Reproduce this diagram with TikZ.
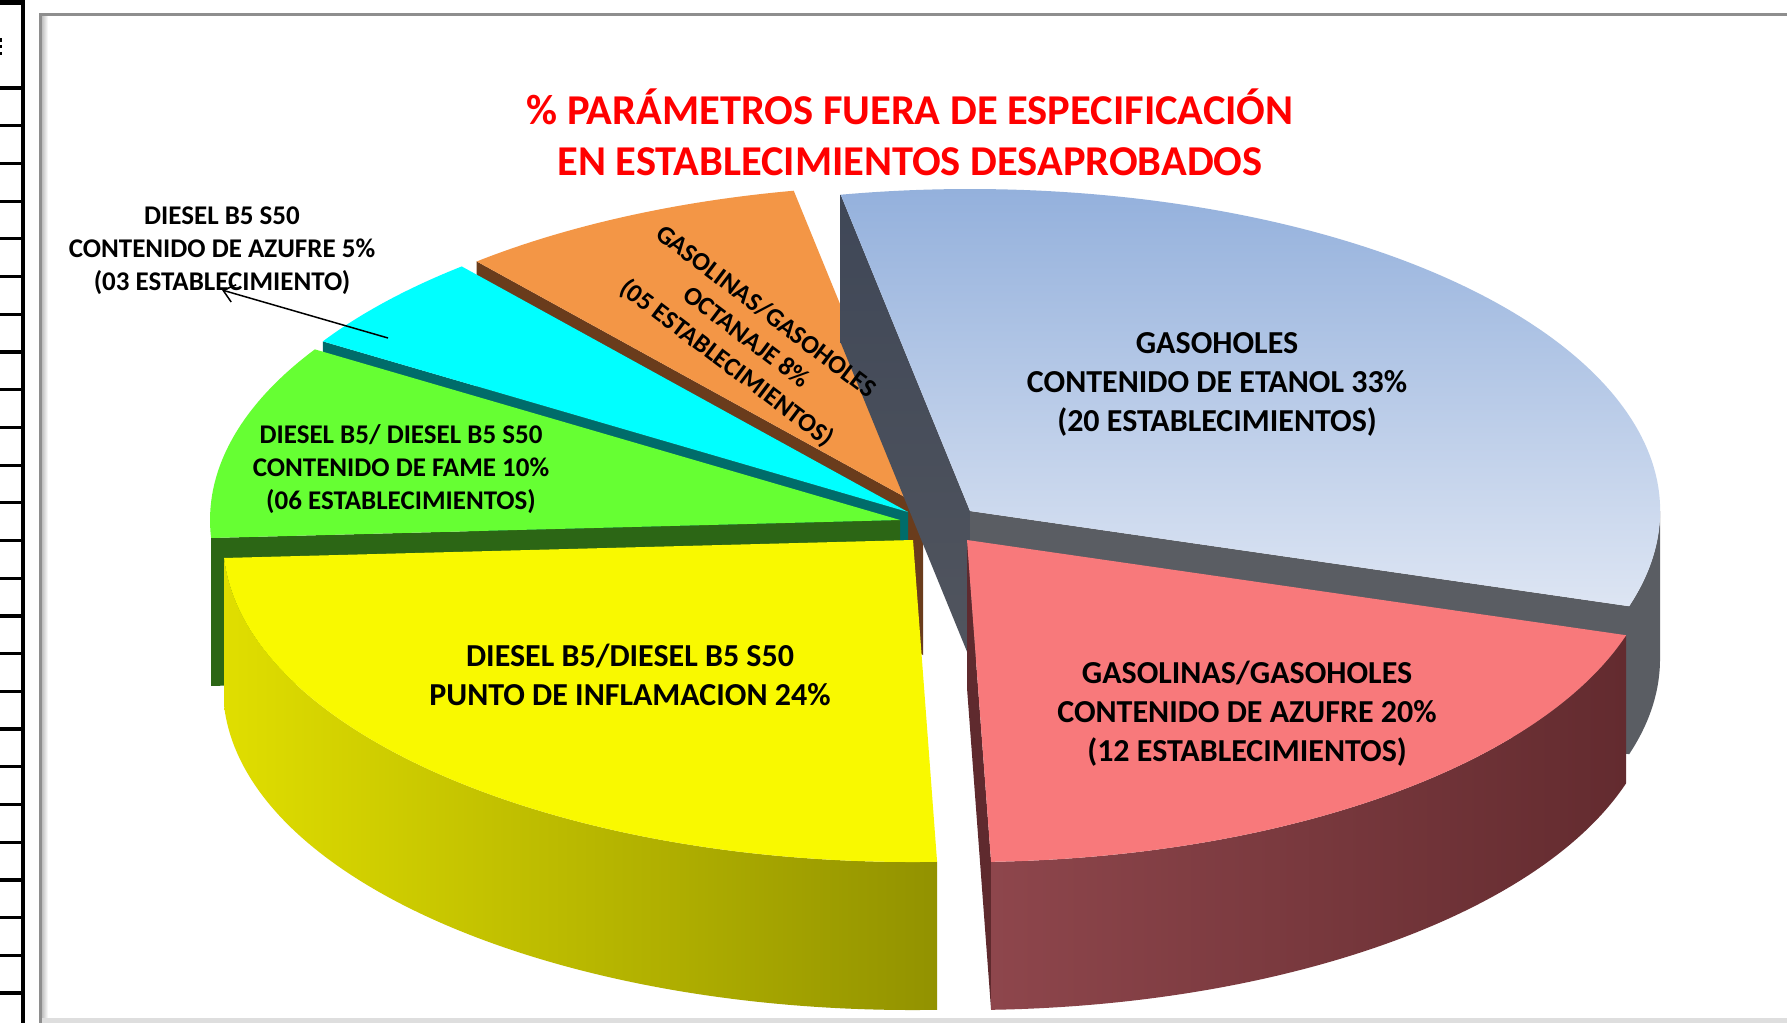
\documentclass[tikz,border=0pt]{standalone}
\usepackage{fontspec}
\setmainfont{Carlito}
\usetikzlibrary{calc,arrows.meta}
\definecolor{orangetop}{HTML}{F39646}
\definecolor{orangeside}{HTML}{6A3C1C}
\definecolor{bluetopA}{HTML}{93B0DC}
\definecolor{bluetopB}{HTML}{DDE5F3}
\definecolor{bluesideA}{HTML}{3F4757}
\definecolor{bluesideB}{HTML}{51555E}
\definecolor{bluefront}{HTML}{5A5D63}
\definecolor{cyantop}{HTML}{00FFFF}
\definecolor{cyanside}{HTML}{006C6A}
\definecolor{greentop}{HTML}{66FF33}
\definecolor{greenside}{HTML}{2C6615}
\definecolor{yellowtop}{HTML}{F9F900}
\definecolor{yellowA}{HTML}{E0DE00}
\definecolor{yellowB}{HTML}{CCCA00}
\definecolor{yellowC}{HTML}{929200}
\definecolor{pinktop}{HTML}{F8797B}
\definecolor{pinkA}{HTML}{8E464C}
\definecolor{pinkB}{HTML}{6E3136}
\definecolor{pinkC}{HTML}{632B2F}
\definecolor{pinkedge}{HTML}{5F2A2E}
\definecolor{framegray}{HTML}{8E8E8E}
\definecolor{titlered}{HTML}{FF0000}

\newcommand\pieface[3]{\path[#3] (#1) -- ($(#1)+(#2:690pt and 322pt)$) -- ++(0,-148) -- ($(#1)+(0,-148)$) -- cycle;}
\newcommand\pierim[4]{\path[#4] ($(#1)+(#2:690pt and 322pt)$) arc[start angle=#2,end angle=#3,x radius=690pt,y radius=322pt] -- ++(0,-148) arc[start angle=#3,end angle=#2,x radius=690pt,y radius=322pt] -- cycle;}
\newcommand\pietop[4]{\path[#4] (#1) -- ($(#1)+(#2:690pt and 322pt)$) arc[start angle=#2,end angle=#3,x radius=690pt,y radius=322pt] -- cycle;}

\tikzset{
  lblbig/.style={font=\bfseries\fontsize{32}{39}\selectfont, align=center, inner sep=0pt},
  lblsmall/.style={font=\bfseries\fontsize{27}{33}\selectfont, align=center, inner sep=0pt},
  ttl/.style={font=\bfseries\fontsize{42.5}{51}\selectfont, align=center, inner sep=0pt, text=titlered},
}

\begin{document}
\begin{tikzpicture}[x=1pt,y=1pt]
\useasboundingbox (0,0) rectangle (1787,-1023);
\fill[white] (0,0) rectangle (1787,-1023);

% left table fragment
\fill[black] (20.5,0) rectangle (25,-1023);
\fill[black] (0,0) rectangle (23,-5);
\foreach \k in {0,...,24} {\fill[black] (0,{-88-37.71*\k+1.6}) rectangle (23,{-88-37.71*\k-1.6});}
\fill[black] (0,-38) rectangle (2,-42);
\fill[black] (0,-45) rectangle (2,-47.5);
\fill[black] (0,-52) rectangle (2,-55);

% chart frame
\fill[framegray] (39,-13) rectangle (1787,-16);
\fill[framegray] (39,-13) rectangle (42,-1023);
\shade[left color=framegray!55, right color=white] (42,-16) rectangle (48,-1018);
\fill[black!13] (42,-1018) rectangle (1787,-1023);

% slice centres
\coordinate (cO) at (923,-507);
\coordinate (cB) at (970,-511);
\coordinate (cC) at (908,-512);
\coordinate (cG) at (900,-520);
\coordinate (cY) at (913,-540);
\coordinate (cP) at (967,-540);

% orange
\pieface{cO}{130.3}{fill=orangeside}
\pietop{cO}{100.8}{130.3}{fill=orangetop}
% blue
\pieface{cB}{100.8}{top color=bluesideA,bottom color=bluesideB}
\pieface{cB}{-17.2}{fill=bluefront}
\pierim{cB}{-17.2}{0}{fill=bluefront}
\pietop{cB}{-17.2}{100.8}{top color=bluetopA,bottom color=bluetopB}
% cyan
\pieface{cC}{148}{fill=cyanside}
\pietop{cC}{130.3}{148}{fill=cyantop}
% green
\pieface{cG}{183.2}{fill=greenside}
\pietop{cG}{148}{183.2}{fill=greentop}
% yellow
\pierim{cY}{183.2}{272}{left color=yellowA,middle color=yellowB,right color=yellowC}
\pietop{cY}{183.2}{272}{fill=yellowtop}
% pink
\pieface{cP}{-88}{fill=pinkedge}
\pierim{cP}{-88}{-17.2}{left color=pinkA,middle color=pinkB,right color=pinkC}
\pietop{cP}{-88}{-17.2}{fill=pinktop}

% title
\node[ttl] (title) at (910,-132.5) {\% PARÁMETROS FUERA DE ESPECIFICACIÓN\\EN ESTABLECIMIENTOS DESAPROBADOS};

% labels
\node[lblbig] (lblB) at (1217,-384) {GASOHOLES\\CONTENIDO DE ETANOL 33\%\\(20 ESTABLECIMIENTOS)};
\node[lblbig] (lblP) at (1247,-714) {GASOLINAS/GASOHOLES\\CONTENIDO DE AZUFRE 20\%\\(12 ESTABLECIMIENTOS)};
\node[lblbig] (lblY) at (630,-675) {DIESEL B5/DIESEL B5 S50\\PUNTO DE INFLAMACION 24\%};
\node[lblsmall] (lblG) at (401,-469) {DIESEL B5/ DIESEL B5 S50\\CONTENIDO DE FAME 10\%\\(06 ESTABLECIMIENTOS)};
\node[lblsmall, font=\bfseries\fontsize{26}{32.5}\selectfont, rotate=-37] (lblO) at (746,-338) {GASOLINAS/GASOHOLES\\OCTANAJE 8\%\\(05 ESTABLECIMIENTOS)};
\node[lblsmall] (lblC) at (222,-251) {DIESEL B5 S50\\CONTENIDO DE AZUFRE 5\%\\(03 ESTABLECIMIENTO)};

% leader arrow
\coordinate (arrS) at (388,-338);
\coordinate (arrE) at (222,-290);
\draw[line width=1.5pt, -{Straight Barb[length=11pt,width=18pt,line width=1.5pt]}] (arrS) -- (arrE);
\end{tikzpicture}
\end{document}
